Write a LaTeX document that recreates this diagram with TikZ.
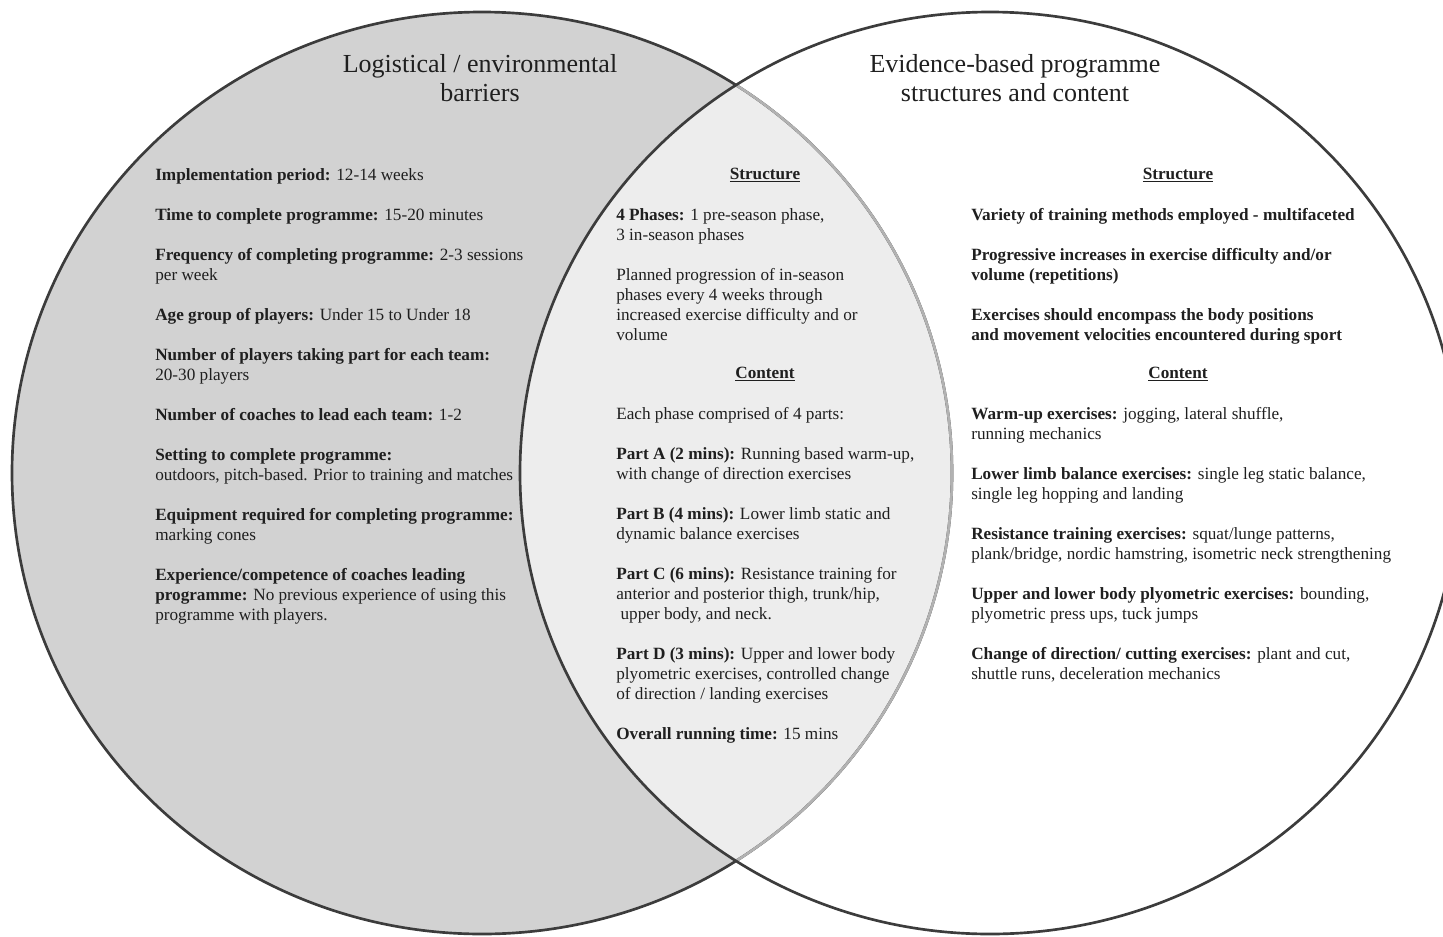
\documentclass[tikz,border=0pt]{standalone}
\usepackage{fontspec}
\setmainfont{Liberation Serif}
\definecolor{barriergrey}{HTML}{D2D2D2}
\definecolor{overlapgrey}{HTML}{EDEDED}
\definecolor{rimdark}{HTML}{3C3C3C}
\definecolor{rimlight}{HTML}{B2B2B2}
\tikzset{
  rim/.style={line width=2pt},
  body/.style={anchor=north west, align=left, inner sep=0pt, text=black!88,
    font=\fontsize{12.9}{15}\selectfont},
  heading/.style={anchor=north, inner sep=0pt, text=black!88,
    font=\fontsize{12.9}{15}\selectfont\bfseries},
  title/.style={align=center, inner sep=0pt, text=black!88,
    font=\fontsize{19.5}{22}\selectfont},
}

\begin{document}
\begin{tikzpicture}[x=0.75pt, y=-0.75pt]
      \useasboundingbox (0,0) rectangle (1443,936);
      \coordinate (lc) at (482,473);
      \coordinate (rc) at (990,473);
      % Circles
      \begin{scope}
        \clip (0,0) rectangle (1443,936);
        \fill[barriergrey] (lc) ellipse [x radius=470, y radius=461];
        \begin{scope}
          \clip (rc) ellipse [x radius=470, y radius=461];
          \fill[overlapgrey] (lc) ellipse [x radius=470, y radius=461];
        \end{scope}
        \draw[rim, rimdark] (lc) ellipse [x radius=470, y radius=461];
        \begin{scope}
          \clip (rc) ellipse [x radius=470, y radius=461];
          \draw[rim, rimlight] (lc) ellipse [x radius=470, y radius=461];
        \end{scope}
        \draw[rim, rimdark] (rc) ellipse [x radius=470, y radius=461];
      \end{scope}
      % Titles
      \node[title] (barrierstitle) at (480,78) {Logistical / environmental\\barriers};
      \node[title] (evidencetitle) at (1015,78) {Evidence-based programme\\structures and content};
      % Left: barriers
      \node[body] (barrierlist) at (155,168) {%
        \textbf{Implementation period:} 12-14 weeks\\[15pt]
        \textbf{Time to complete programme:} 15-20 minutes\\[15pt]
        \textbf{Frequency of completing programme:} 2-3 sessions\\
        per week\\[15pt]
        \textbf{Age group of players:} Under 15 to Under 18\\[15pt]
        \textbf{Number of players taking part for each team:}\\
        20-30 players\\[15pt]
        \textbf{Number of coaches to lead each team:} 1-2\\[15pt]
        \textbf{Setting to complete programme:}\\
        outdoors, pitch-based. Prior to training and matches\\[15pt]
        \textbf{Equipment required for completing programme:}\\
        marking cones\\[15pt]
        \textbf{Experience/competence of coaches leading}\\
        \textbf{programme:} No previous experience of using this\\
        programme with players.};
      % Middle: overlap
      \node[heading] (midstructure) at (765,168) {\underline{Structure}};
      \node[body] (midphases) at (616,208) {%
        \textbf{4 Phases:} 1 pre-season phase,\\
        3 in-season phases\\[15pt]
        Planned progression of in-season\\
        phases every 4 weeks through\\
        increased exercise difficulty and or\\
        volume};
      \node[heading] (midcontent) at (765,367) {\underline{Content}};
      \node[body] (midparts) at (616,407) {%
        Each phase comprised of 4 parts:\\[15pt]
        \textbf{Part A (2 mins):} Running based warm-up,\\
        with change of direction exercises\\[15pt]
        \textbf{Part B (4 mins):} Lower limb static and\\
        dynamic balance exercises\\[15pt]
        \textbf{Part C (6 mins):} Resistance training for\\
        anterior and posterior thigh, trunk/hip,\\
        \ upper body, and neck.\\[15pt]
        \textbf{Part D (3 mins):} Upper and lower body\\
        plyometric exercises, controlled change\\
        of direction / landing exercises\\[15pt]
        \textbf{Overall running time:} 15 mins};
      % Right: evidence
      \node[heading] (evistructure) at (1178,168) {\underline{Structure}};
      \node[body, font=\fontsize{12.9}{15}\selectfont\bfseries] (evimethods) at (971,208) {%
        Variety of training methods employed - multifaceted\\[15pt]
        Progressive increases in exercise difficulty and/or\\
        volume (repetitions)\\[15pt]
        Exercises should encompass the body positions\\
        and movement velocities encountered during sport};
      \node[heading] (evicontent) at (1178,367) {\underline{Content}};
      \node[body] (eviexercises) at (971,407) {%
        \textbf{Warm-up exercises:} jogging, lateral shuffle,\\
        running mechanics\\[15pt]
        \textbf{Lower limb balance exercises:} single leg static balance,\\
        single leg hopping and landing\\[15pt]
        \textbf{Resistance training exercises:} squat/lunge patterns,\\
        plank/bridge, nordic hamstring, isometric neck strengthening\\[15pt]
        \textbf{Upper and lower body plyometric exercises:} bounding,\\
        plyometric press ups, tuck jumps\\[15pt]
        \textbf{Change of direction/ cutting exercises:} plant and cut,\\
        shuttle runs, deceleration mechanics};
\end{tikzpicture}
\end{document}
